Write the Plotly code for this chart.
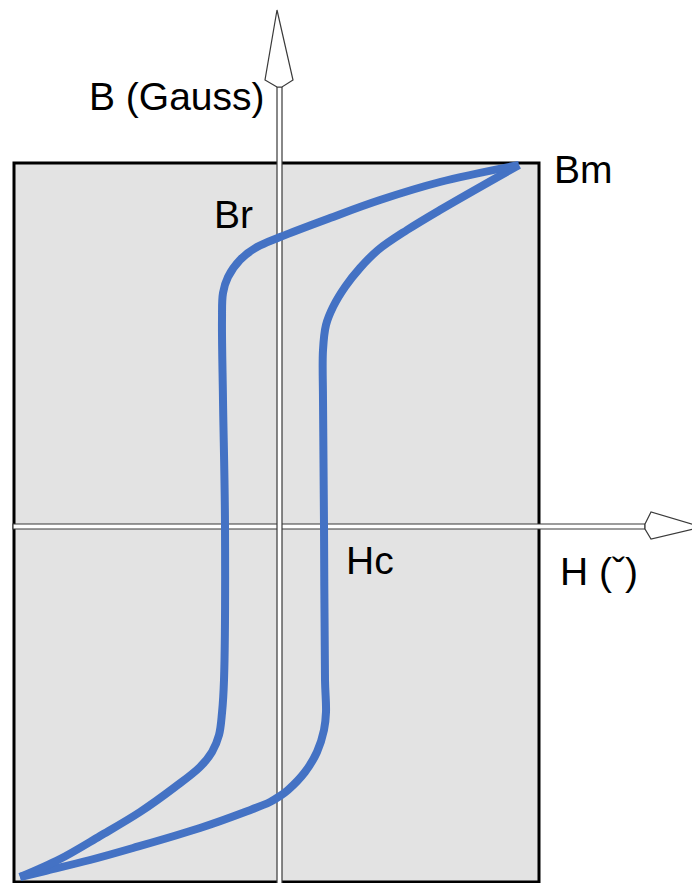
import plotly.graph_objects as go

# Hysteresis loop, H and B (origin at the axes crossing)
h_rising = [-260, -235, -190, -147, -80, -35, -10, 0, 8, 25, 37, 44, 46, 45,
            44, 43, 43, 46, 53, 65, 80, 98, 127, 160, 239]
b_rising = [-351, -345, -334, -322, -302, -286, -276, -270, -264, -246, -226,
            -204, -186, -154, 1, 126, 176, 201, 219, 239, 258, 276, 296, 316,
            361]

h_falling = [239, 160, 100, 50, 0, -23, -40, -52, -57, -58, -57, -55, -56,
             -58, -61, -68, -80, -105, -140, -180, -220, -260]
b_falling = [361, 344, 326, 308, 289, 279, 266, 249, 233, 206, 126, 1, -154,
             -187, -209, -226, -241, -261, -286, -310, -333, -351]

labels = ["B (Gauss)", "Bm", "Br", "Hc", "H (ˇ)"]
label_h = [-193, 272, -68, 64, 278]
label_b = [430, 357, 312, -34, -45]

LINE_COLOR = "#4472C4"
FONT = "Liberation Sans, Arial, sans-serif"

fig = go.Figure()

for h, b in [(h_rising, b_rising), (h_falling, b_falling)]:
    fig.add_trace(go.Scatter(
        x=h, y=b, mode="lines",
        line=dict(color=LINE_COLOR, width=8, shape="spline", smoothing=1.0),
        hoverinfo="skip", showlegend=False,
    ))

# grey frame behind the loop
fig.add_shape(type="rect", x0=-266, x1=259, y0=-356, y1=363,
              fillcolor="#e3e3e3", line=dict(color="black", width=3),
              layer="below")

# hollow axes with outlined arrow heads
axis_line = dict(color="#3a3a3a", width=1.2)
fig.add_shape(type="rect", x0=-267, x1=365, y0=-3, y1=2,
              fillcolor="white", line=axis_line, layer="below")
fig.add_shape(type="rect", x0=-3, x1=2, y0=-360, y1=439,
              fillcolor="white", line=axis_line, layer="below")
fig.add_shape(type="path",
              path="M -3,439 L -15,446 L -3,516 L 13,446 L 2,439 Z",
              fillcolor="white", line=axis_line, layer="below")
fig.add_shape(type="path",
              path="M 365,2 L 371,14 L 422,-1 L 371,-13 L 365,-3 Z",
              fillcolor="white", line=axis_line, layer="below")

for text, h, b in zip(labels, label_h, label_b):
    fig.add_annotation(x=h, y=b, text=text, showarrow=False,
                       xanchor="left", yanchor="middle",
                       font=dict(family=FONT, size=39, color="black"))

# the page body keeps its default 8px margin, so the figure is drawn 8px in
fig.update_layout(
    width=692, height=875,
    margin=dict(l=0, r=0, t=0, b=0),
    paper_bgcolor="white", plot_bgcolor="white",
    xaxis=dict(range=[-272, 420], visible=False, fixedrange=True),
    yaxis=dict(range=[-357, 518], visible=False, fixedrange=True),
)

fig.write_html("out.html")
